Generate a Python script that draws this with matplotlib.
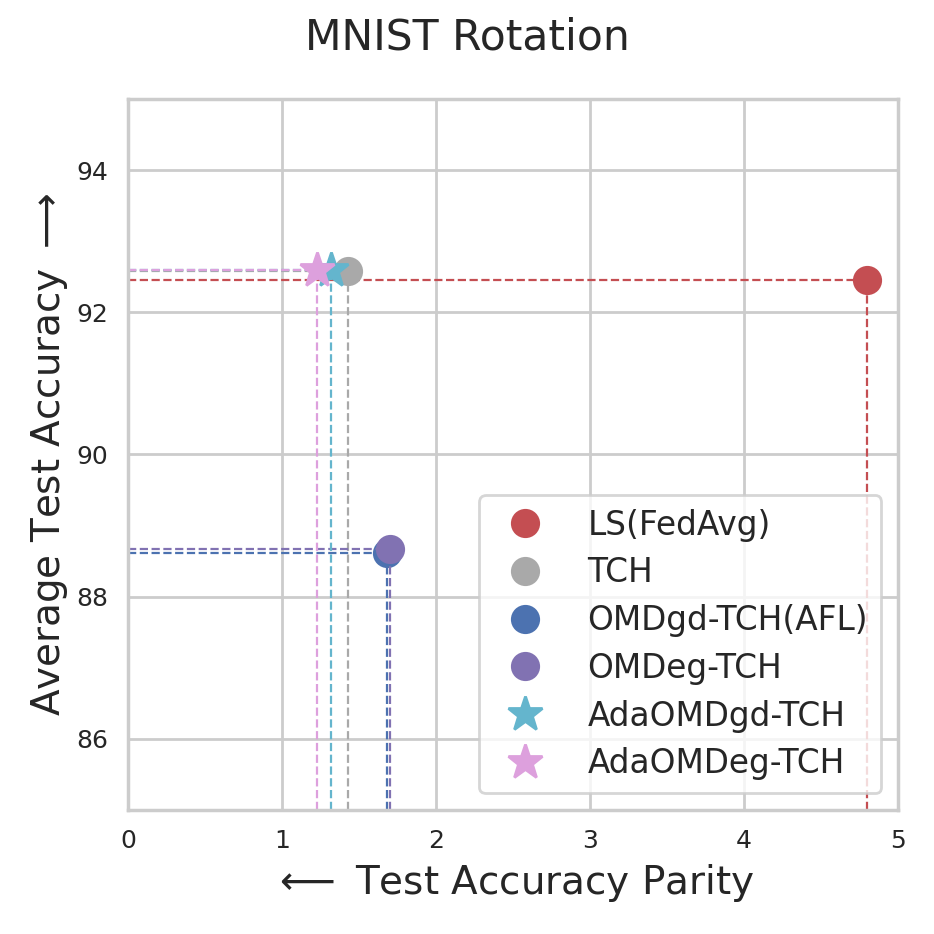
import matplotlib
matplotlib.use("Agg")
import matplotlib.pyplot as plt
import seaborn as sns

sns.set_theme(style="whitegrid")
plt.rcParams['font.family'] = ['DejaVu Sans']

# values
methods = ['LS(FedAvg)', 'TCH', 'OMDgd-TCH(AFL)', 'OMDeg-TCH', 'AdaOMDgd-TCH', 'AdaOMDeg-TCH']
parity = [4.80, 1.43, 1.68, 1.70, 1.32, 1.23]
accuracy = [92.45, 92.58, 88.61, 88.67, 92.60, 92.60]
colors = ['#C44E52', '#A9A9A9', '#4C72B0', '#8172B2', '#64B5CD', '#DDA0DD']
markers = ['o', 'o', 'o', 'o', '*', '*']

fig = plt.figure(figsize=(4.67, 4.67), dpi=200)
ax = fig.add_axes([0.137, 0.133, 0.824, 0.761])

xmin, ymin = 0, 85
for name, x, y, c, m in zip(methods, parity, accuracy, colors, markers):
    ax.plot([xmin, x], [y, y], '--', color=c, lw=0.8)
    ax.plot([x, x], [ymin, y], '--', color=c, lw=0.8)
    ax.plot(x, y, linestyle='none', marker=m, color=c,
            markersize=13 if m == '*' else 9.5, label=name)

ax.set_xlim(0, 5)
ax.set_ylim(85, 95)
ax.set_xticks([0, 1, 2, 3, 4, 5])
ax.set_yticks([86, 88, 90, 92, 94])
ax.tick_params(labelsize=9, length=0, pad=7)
ax.set_xlabel(r'$\longleftarrow$ Test Accuracy Parity', fontsize=14, labelpad=3)
ax.set_ylabel(r'Average Test Accuracy $\longrightarrow$', fontsize=14, labelpad=2.5)
fig.suptitle('MNIST Rotation', fontsize=15.3, y=0.982)
ax.legend(loc='lower right', fontsize=11.8, borderpad=0.4, labelspacing=0.45,
          handletextpad=0.9)

fig.savefig('out.png', dpi=200)
